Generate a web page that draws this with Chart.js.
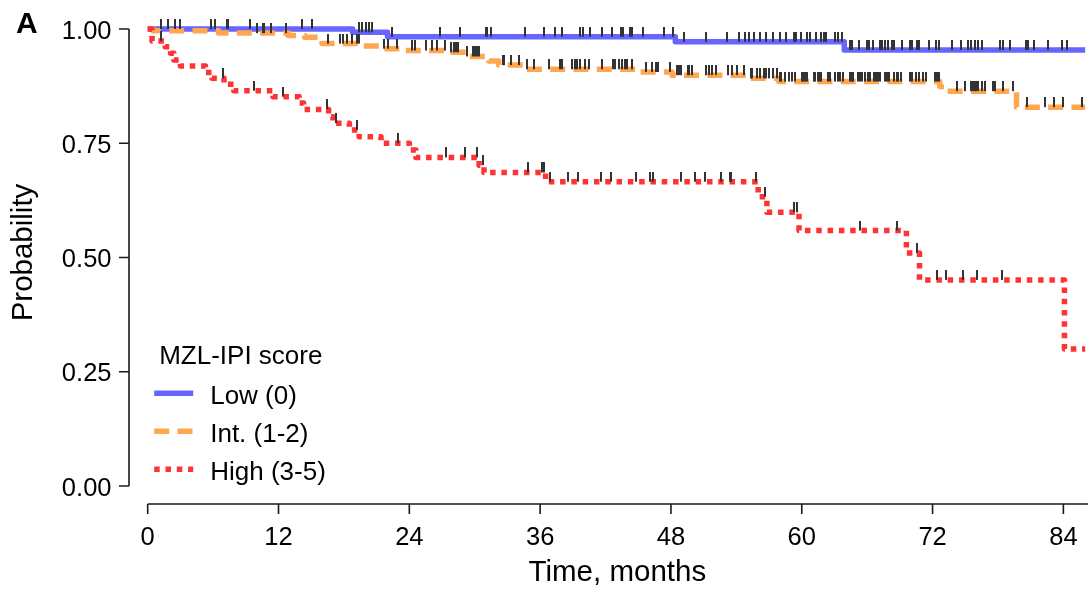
<!DOCTYPE html>
<html>
<head>
<meta charset="utf-8">
<script src="https://cdn.jsdelivr.net/npm/chart.js@4.4.1/dist/chart.umd.min.js"></script>
<style>
  html, body { margin: 0; padding: 0; background: #fff; }
  #wrap { position: relative; width: 1088px; height: 591px; }
</style>
</head>
<body>
<div id="wrap"><canvas id="kmChart"></canvas></div>
<script>
// Kaplan-Meier curves by MZL-IPI score
const seriesLabels = ['Low (0)', 'Int. (1-2)', 'High (3-5)'];
const legendTitle = 'MZL-IPI score';
const xTicks = [0, 12, 24, 36, 48, 60, 72, 84];
const yTicks = [0, 0.25, 0.5, 0.75, 1];
const yTickLabels = ['0.00', '0.25', '0.50', '0.75', '1.00'];
const xTitle = 'Time, months';
const yTitle = 'Probability';
const panelLabel = 'A';
const followUpEnd = 86;

// Low (0): event times and survival after each event, censor times
const lowTimes = [18.8, 22.0, 48.4, 63.9];
const lowSurv = [0.993, 0.983, 0.972, 0.954];
const lowCensor = [1.2, 1.85, 2.5, 2.97, 5.8, 6.2, 7.25, 7.4, 9.4, 14.2, 15.1, 19.4, 19.7, 20.0, 20.3, 20.6,
  22.4, 26.8, 28.65, 31.0, 31.1, 31.5, 34.6, 36.4, 37.4, 38.0, 39.7, 39.9, 40.6, 41.7, 42.6, 43.4, 43.6,
  44.2, 44.45, 45.4, 47.4, 48.2, 49.2, 51.2, 53.1, 54.2, 54.8, 55.2, 55.6, 56.2, 56.7, 57.4, 58.0, 58.6,
  59.3, 59.5, 59.9, 60.5, 60.8, 61.3, 61.8, 62.0, 62.2, 63.05, 63.3, 63.65, 64.4, 64.6, 65.25, 66.0, 66.2,
  66.5, 67.2, 67.4, 67.6, 67.9, 68.3, 68.5, 69.2, 69.9, 70.1, 70.6, 70.8, 71.65, 72.35, 72.6, 73.8, 74.6,
  75.25, 75.5, 75.9, 76.2, 76.5, 78.2, 78.45, 79.1, 80.6, 80.75, 81.3, 82.6, 83.9, 84.3];

// Int. (1-2)
const intTimes = [0.5, 6.5, 12.9, 14.4, 15.7, 16.0, 19.4, 21.4, 23.4, 27.5, 29.2, 31.3, 32.2, 34.7, 44.9,
  48.1, 55.1, 57.9, 72.65, 72.8, 79.7];
const intSurv = [0.996, 0.991, 0.986, 0.982, 0.975, 0.968, 0.963, 0.957, 0.953, 0.949, 0.940, 0.930, 0.921,
  0.912, 0.906, 0.899, 0.892, 0.885, 0.875, 0.864, 0.829];
const intCensor = [9.99, 10.6, 10.7, 11.3, 12.7, 16.5, 17.6, 17.9, 18.3, 18.7, 19.2, 19.35, 21.7, 22.0, 22.9,
  24.2, 24.5, 25.5, 26.1, 26.5, 27.3, 27.8, 28.1, 28.3, 28.5, 29.3, 29.8, 30.0, 30.1, 30.3, 30.4, 32.55, 32.7,
  33.3, 34.1, 34.8, 35.45, 36.8, 37.8, 38.0, 38.95, 39.2, 39.4, 39.7, 40.1, 40.5, 41.7, 42.7, 42.9, 43.2,
  43.5, 43.8, 44.0, 44.4, 45.7, 46.3, 46.6, 46.8, 47.9, 48.6, 48.7, 48.9, 49.6, 49.7, 49.9, 51.2, 51.5, 51.8,
  52.1, 53.2, 53.6, 54.05, 54.7, 55.3, 55.4, 55.9, 56.2, 56.5, 56.7, 56.95, 57.4, 57.7, 58.0, 58.1, 58.5,
  58.8, 59.1, 59.4, 60.0, 60.15, 60.3, 60.5, 61.1, 61.2, 61.5, 61.7, 61.8, 62.4, 62.6, 63.05, 63.3, 63.5,
  63.8, 64.4, 64.6, 64.7, 65.2, 65.3, 65.55, 65.8, 66.1, 66.25, 66.65, 66.8, 66.95, 67.2, 67.6, 67.8, 68.0,
  68.5, 68.7, 68.85, 69.15, 69.9, 70.1, 70.5, 70.8, 71.1, 71.4, 72.2, 72.4, 72.6, 74.2, 74.95, 75.5, 75.7,
  75.9, 76.0, 76.2, 76.5, 76.8, 77.5, 77.7, 78.45, 79.4, 80.7, 82.3, 83.1, 84.0, 85.7];

// High (3-5)
const highTimes = [0.4, 1.6, 2.1, 2.4, 3.0, 5.3, 5.9, 7.0, 7.9, 11.5, 13.9, 14.3, 16.6, 17.0, 18.5, 19.4,
  21.4, 24.0, 24.6, 30.4, 30.85, 36.5, 56.0, 56.8, 59.75, 69.6, 70.8, 84.1];
const highSurv = [0.974, 0.961, 0.947, 0.932, 0.919, 0.905, 0.892, 0.879, 0.865, 0.852, 0.838, 0.824, 0.808,
  0.794, 0.779, 0.764, 0.750, 0.735, 0.719, 0.702, 0.686, 0.666, 0.633, 0.599, 0.559, 0.510, 0.451, 0.300];
const highCensor = [1.2, 6.9, 9.75, 12.4, 16.45, 17.25, 19.2, 23.0, 27.4, 29.1, 30.2, 30.75, 34.9, 36.2, 36.35,
  36.9, 38.6, 39.5, 41.55, 42.5, 44.75, 46.1, 46.35, 48.9, 50.2, 51.1, 52.6, 53.4, 53.55, 55.8, 56.65, 59.3,
  59.6, 65.3, 68.7, 70.6, 72.4, 73.2, 74.8, 76.1, 78.4];

const FONT = '"Liberation Sans", Arial, Helvetica, sans-serif';
const seriesColors = ['#6666ff', '#ffa64f', '#ff3333'];
const seriesDashes = [[], [15, 8.3], [5.5, 5.8]];

// step curve points: start at 1, drop at each event, run to end of follow-up
const kmPoints = (times, surv) => {
  const pts = [{ x: 0, y: 1 }];
  times.forEach((t, i) => pts.push({ x: t, y: surv[i] }));
  pts.push({ x: followUpEnd, y: surv[surv.length - 1] });
  return pts;
};

// survival level at time t (used to sit censor marks on their curve)
const survAt = (times, surv, t) => {
  let s = 1;
  times.forEach((tt, i) => { if (tt <= t) s = surv[i]; });
  return s;
};

// censor mark: short vertical tick standing on the curve
const tickMark = document.createElement('canvas');
tickMark.width = 2;
tickMark.height = 20;
const tctx = tickMark.getContext('2d');
tctx.fillStyle = '#333';
tctx.fillRect(0, 0, 2, 10);

const groups = [
  [lowTimes, lowSurv, lowCensor],
  [intTimes, intSurv, intCensor],
  [highTimes, highSurv, highCensor]
];

const datasets = [];
groups.forEach(([times, surv, censor], i) => {
  datasets.push({
    type: 'scatter',
    label: seriesLabels[i] + ' censored',
    data: censor.map(t => ({ x: t, y: survAt(times, surv, t) })),
    pointStyle: tickMark,
    pointRadius: 3,
    clip: false,
    order: 0
  });
  datasets.push({
    type: 'line',
    label: seriesLabels[i],
    data: kmPoints(times, surv),
    stepped: true,
    borderColor: seriesColors[i],
    backgroundColor: seriesColors[i],
    borderWidth: 5.5,
    borderDash: seriesDashes[i],
    borderCapStyle: 'butt',
    borderJoinStyle: 'round',
    pointRadius: 0,
    fill: false,
    clip: false,
    order: 3 - i // red on top, blue at the bottom
  });
});

// R-style detached axes, titles and panel letter
const baseAxesPlugin = {
  id: 'baseAxes',
  afterDraw: (chart) => {
    const { ctx, chartArea } = chart;
    const xs = chart.scales.x;
    const ys = chart.scales.y;
    const yAxisX = chartArea.left - 18.7;
    const xAxisY = chartArea.bottom + 18;
    ctx.save();
    ctx.strokeStyle = '#1a1a1a';
    ctx.lineWidth = 1.6;
    ctx.beginPath();
    ctx.moveTo(yAxisX, ys.getPixelForValue(yTicks[0]));
    ctx.lineTo(yAxisX, ys.getPixelForValue(yTicks[yTicks.length - 1]));
    yTicks.forEach(v => {
      const p = ys.getPixelForValue(v);
      ctx.moveTo(yAxisX - 10, p);
      ctx.lineTo(yAxisX, p);
    });
    ctx.moveTo(xs.getPixelForValue(xTicks[0]), xAxisY);
    ctx.lineTo(chart.width, xAxisY);
    xTicks.forEach(v => {
      const p = xs.getPixelForValue(v);
      ctx.moveTo(p, xAxisY);
      ctx.lineTo(p, xAxisY + 10);
    });
    ctx.stroke();

    ctx.fillStyle = '#000';
    ctx.font = `25.5px ${FONT}`;
    ctx.textBaseline = 'alphabetic';
    ctx.textAlign = 'right';
    yTicks.forEach((v, i) => ctx.fillText(yTickLabels[i], yAxisX - 17.5, ys.getPixelForValue(v) + 9.5));
    ctx.textAlign = 'center';
    xTicks.forEach(v => ctx.fillText(String(v), xs.getPixelForValue(v), xAxisY + 41));

    ctx.font = `29.5px ${FONT}`;
    ctx.fillText(xTitle, (chartArea.left + chartArea.right) / 2 + 2, xAxisY + 77);
    ctx.save();
    ctx.translate(31.5, (chartArea.top + chartArea.bottom) / 2 - 5);
    ctx.rotate(-Math.PI / 2);
    ctx.fillText(yTitle, 0, 0);
    ctx.restore();

    ctx.font = `bold 30px ${FONT}`;
    ctx.textAlign = 'left';
    ctx.fillText(panelLabel, 16, 33);
    ctx.restore();
  }
};

// legend inside the plot, bottom-left
const innerLegendPlugin = {
  id: 'innerLegend',
  afterDraw: (chart) => {
    const { ctx, chartArea } = chart;
    const x0 = chartArea.left + 6.5;
    const firstY = chartArea.bottom - 92.7;
    ctx.save();
    ctx.fillStyle = '#000';
    ctx.font = `26px ${FONT}`;
    ctx.textAlign = 'left';
    ctx.textBaseline = 'alphabetic';
    ctx.fillText(legendTitle, x0 + 5, firstY - 29.8);
    seriesLabels.forEach((label, i) => {
      const ds = chart.data.datasets.find(d => d.label === label);
      const y = firstY + i * 38;
      ctx.beginPath();
      ctx.strokeStyle = ds.borderColor;
      ctx.lineWidth = ds.borderWidth;
      ctx.lineCap = 'butt';
      ctx.setLineDash(ds.borderDash);
      ctx.moveTo(x0, y);
      ctx.lineTo(x0 + 39, y);
      ctx.stroke();
      ctx.setLineDash([]);
      ctx.fillText(label, x0 + 56, y + 10.5);
    });
    ctx.restore();
  }
};

const ctx = document.getElementById('kmChart').getContext('2d');
const chart = new Chart(ctx, {
  type: 'line',
  data: { datasets },
  options: {
    responsive: true,
    maintainAspectRatio: false,
    animation: false,
    events: [],
    layout: { padding: { left: 147.7, top: 29, right: 0, bottom: 105 } },
    scales: {
      x: { type: 'linear', min: 0, max: 85.8, display: false },
      y: { type: 'linear', min: 0, max: 1, display: false }
    },
    plugins: {
      legend: { display: false },
      tooltip: { enabled: false }
    }
  },
  plugins: [baseAxesPlugin, innerLegendPlugin]
});
</script>
</body>
</html>
